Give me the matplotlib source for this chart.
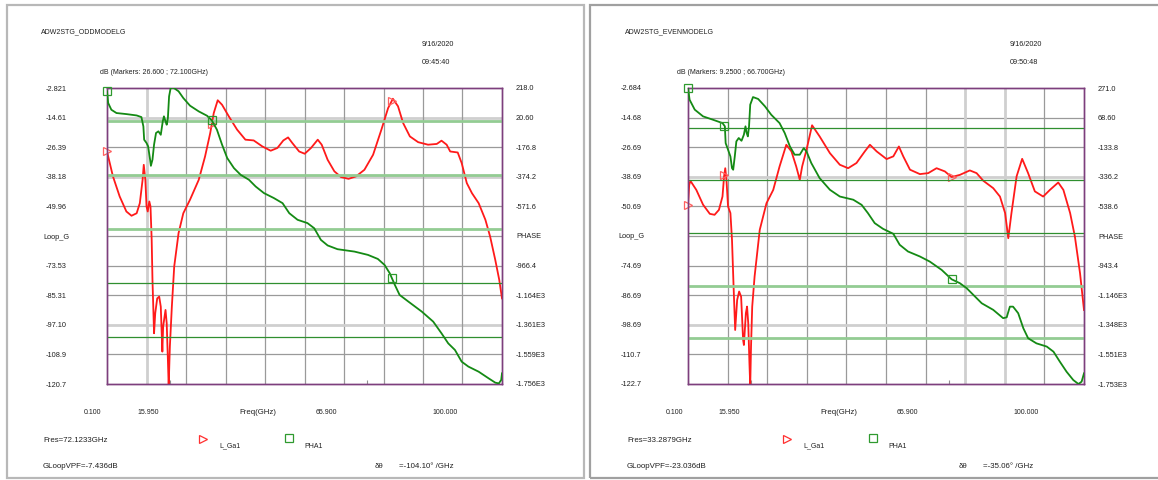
import numpy as np
import matplotlib
matplotlib.use('Agg')
from matplotlib import pyplot as plt
from matplotlib.lines import Line2D
from matplotlib.patches import Rectangle

plt.rcParams['font.family'] = ['Liberation Sans', 'DejaVu Sans']

W, H = 1158, 480

# ---------------- odd mode data ----------------
odd_gain_f = [0.1, 1.6, 3.3, 5.0, 6.3, 7.6, 8.4, 9.1, 9.4, 9.8, 10.1, 10.4, 10.8, 11.1, 11.4, 11.6,
              12.0, 12.3, 12.8, 13.3, 13.7, 14.1, 14.3, 14.9, 15.2, 15.5, 15.7, 16.0, 16.5, 17.1,
              18.2, 19.4, 21.1, 23.3, 24.9, 26.2, 27.1, 28.1, 29.2, 30.9, 33.0, 35.1, 37.2, 39.4,
              41.5, 43.2, 44.7, 45.9, 47.0, 48.7, 50.1, 51.7, 53.4, 54.4, 55.9, 57.6, 59.3, 61.2,
              63.1, 65.2, 67.4, 69.5, 71.2, 72.4, 73.7, 75.0, 76.7, 78.8, 81.3, 83.5, 84.7, 86.0,
              86.9, 88.8, 89.8, 91.1, 92.4, 94.1, 95.8, 97.0, 98.3, 99.3, 100.0]
odd_gain_db = [-28.1, -38.0, -46.0, -52.0, -53.7, -52.7, -48.7, -39.4, -33.4, -39.4, -50.0, -52.0,
               -48.0, -50.0, -63.3, -79.2, -100.5, -92.5, -86.6, -85.9, -89.9, -107.8, -97.8, -91.2,
               -96.5, -111.1, -121.5, -105.8, -89.9, -73.9, -60.6, -52.7, -47.3, -39.4, -30.1, -20.8,
               -12.8, -7.7, -9.5, -14.1, -19.4, -23.4, -23.7, -26.1, -27.8, -26.7, -23.7, -22.5,
               -24.8, -28.1, -29.0, -26.7, -23.4, -25.4, -31.4, -36.0, -38.3, -39.0, -38.0, -35.4,
               -29.4, -19.4, -10.8, -7.1, -10.1, -16.8, -22.1, -24.4, -25.4, -25.1, -23.8, -25.4,
               -28.1, -28.5, -32.7, -40.7, -44.7, -48.7, -55.3, -62.0, -71.3, -79.2, -86.6]
odd_phase_f = [0.1, 0.4, 1.2, 2.5, 5.0, 7.6, 8.8, 9.3, 9.5, 10.1, 10.5, 11.0, 11.2, 11.6, 12.0, 12.5,
               13.1, 13.7, 14.2, 14.5, 14.9, 15.2, 15.5, 15.8, 16.2, 16.9, 18.2, 19.4, 21.1, 23.3,
               25.4, 26.6, 27.9, 29.2, 30.5, 32.2, 33.9, 36.0, 37.7, 39.8, 42.3, 44.5, 46.2, 48.3,
               50.8, 52.5, 54.2, 55.9, 58.4, 62.7, 66.1, 68.6, 70.3, 71.6, 72.9, 74.1, 76.3, 79.7,
               82.6, 84.7, 86.4, 88.1, 89.8, 91.5, 94.1, 96.6, 98.3, 99.2, 99.8, 100.0]
odd_phase_deg = [196, 118, 73, 51, 44, 35, 24, -38, -127, -149, -171, -260, -301, -260, -160, -82,
                 -71, -94, -5, 29, -5, -27, 18, 162, 218, 220, 196, 151, 100, 62, 33, 2, -60, -160,
                 -249, -316, -361, -394, -439, -483, -516, -550, -617, -661, -683, -717, -795, -832,
                 -857, -873, -895, -922, -962, -1017, -1095, -1162, -1206, -1273, -1340, -1418,
                 -1485, -1529, -1607, -1640, -1674, -1718, -1747, -1752, -1729, -1685]
odd_markers = [0.1, 26.6, 72.1]
odd_left_labels = ['-2.821', '-14.61', '-26.39', '-38.18', '-49.96', 'Loop_G', '-73.53', '-85.31',
                   '-97.10', '-108.9', '-120.7']
odd_right_labels = ['218.0', '20.60', '-176.8', '-374.2', '-571.6', 'PHASE', '-966.4', '-1.164E3',
                    '-1.361E3', '-1.559E3', '-1.756E3']

# ---------------- even mode data ----------------
even_gain_f = [0.1, 0.4, 0.7, 2.2, 3.9, 5.6, 6.8, 7.9, 8.8, 9.2, 9.5, 9.8, 10.2, 10.8, 11.2, 11.6,
               12.0, 12.5, 13.0, 13.5, 14.0, 14.2, 14.7, 15.0, 15.3, 15.6, 15.8, 16.0, 16.3, 16.9,
               18.2, 19.9, 21.6, 23.2, 24.9, 26.2, 27.4, 28.3, 28.9, 30.0, 31.4, 33.3, 35.9, 38.4,
               40.5, 42.6, 44.7, 46.0, 47.7, 50.2, 51.9, 53.3, 54.4, 56.1, 58.6, 60.7, 62.8, 64.9,
               66.6, 68.7, 71.2, 72.9, 74.6, 77.1, 78.8, 80.1, 80.9, 81.7, 83.0, 84.4, 85.9, 87.6,
               89.7, 91.4, 93.5, 94.8, 96.5, 97.7, 99.0, 100.0]
even_gain_db = [-50.0, -42.0, -40.3, -44.0, -50.0, -53.7, -54.1, -52.1, -46.7, -38.5, -35.2, -39.9,
                -50.7, -53.4, -64.3, -83.2, -100.8, -88.6, -85.2, -87.3, -104.8, -106.9, -94.0,
                -91.3, -98.1, -114.3, -123.5, -107.5, -91.3, -79.1, -60.2, -49.4, -44.0, -34.5,
                -25.7, -28.4, -34.5, -39.9, -34.5, -27.7, -17.8, -22.3, -29.1, -33.8, -35.2, -33.1,
                -28.4, -25.7, -28.4, -31.5, -30.4, -26.4, -30.4, -35.8, -37.6, -37.2, -35.2, -36.5,
                -38.8, -37.9, -36.1, -37.2, -40.3, -43.3, -46.7, -53.4, -63.6, -53.4, -38.5, -31.4,
                -37.2, -44.6, -46.7, -44.0, -41.0, -44.0, -53.4, -62.9, -77.8, -92.7]
even_phase_f = [0.1, 0.5, 1.8, 3.9, 6.4, 8.8, 9.4, 9.6, 10.2, 10.8, 11.2, 11.5, 11.9, 12.3, 12.9,
                13.6, 14.2, 14.6, 14.9, 15.2, 15.5, 15.8, 16.5, 17.8, 19.5, 21.1, 23.2, 24.5, 25.8,
                27.0, 28.3, 29.3, 30.0, 31.2, 33.3, 35.9, 38.4, 41.8, 43.9, 45.5, 47.2, 49.3, 51.9,
                53.5, 55.6, 58.6, 61.1, 64.1, 66.6, 68.7, 70.4, 72.1, 74.2, 77.1, 79.6, 80.5, 81.3,
                82.1, 83.4, 84.7, 85.9, 88.0, 90.6, 92.3, 93.9, 95.6, 97.3, 98.6, 99.4, 100.0]
even_phase_deg = [271, 191, 123, 77, 54, 31, 9, -106, -151, -197, -277, -288, -197, -94, -71, -90,
                  -48, 9, -37, -60, 9, 157, 209, 196, 146, 88, 31, -37, -128, -185, -185, -140,
                  -163, -242, -345, -425, -471, -493, -528, -585, -653, -692, -726, -801, -847,
                  -881, -916, -973, -1037, -1064, -1098, -1144, -1201, -1246, -1303, -1297, -1224,
                  -1224, -1269, -1372, -1440, -1475, -1497, -1532, -1600, -1669, -1726, -1753,
                  -1737, -1680]
even_markers = [0.1, 9.25, 66.7]
even_left_labels = ['-2.684', '-14.68', '-26.69', '-38.69', '-50.69', 'Loop_G', '-74.69', '-86.69',
                    '-98.69', '-110.7', '-122.7']
even_right_labels = ['271.0', '68.60', '-133.8', '-336.2', '-538.6', 'PHASE', '-943.4', '-1.146E3',
                     '-1.348E3', '-1.551E3', '-1.753E3']

phase_lines = [0, -360, -720, -1080, -1440]
x_tick_vals = [0.1, 15.95, 65.9, 100.0]
x_tick_text = ['0.100', '15.950', 'Freq(GHz)', '65.900', '100.000']

fig = plt.figure(figsize=(W / 100, H / 100), dpi=100)
fig.patch.set_facecolor('white')


def fx(x):
    return x / W


def fy(y):
    return 1 - y / H


def txt(x, y, s, size=5.0, ha='left', color='#202020'):
    fig.text(fx(x), fy(y), s, fontsize=size, ha=ha, va='center', color=color)


def panel(L, gf, gdb, pf, pdeg, markers, llab, rlab, db_rng, ph_rng, texts, green_light,
          light_v, light_h, left_pad):
    ax0 = L['ax']
    # frame of the panel
    fig.add_artist(Rectangle((fx(L['fr0']), fy(478)), fx(L['fr1'] - L['fr0']), 473 / H,
                             transform=fig.transFigure, fill=False, ec=L['frc'], lw=1.6))
    ax = fig.add_axes([fx(ax0), fy(384), fx(L['aw']), 296 / H])
    ax.set_xlim(0.1, 100)
    ax.set_ylim(db_rng)
    ax2 = ax.twinx()
    ax2.set_ylim(ph_rng)

    for i in range(1, 10):
        xv = 0.1 + 99.9 * i / 10
        if i in light_v:
            ax.axvline(xv, color='#cfcfcf', lw=2.0, zorder=1)
        else:
            ax.axvline(xv, color='#9a9a9a', lw=0.9, zorder=1)
        yv = db_rng[1] - (db_rng[1] - db_rng[0]) * i / 10
        if i in light_h:
            ax.axhline(yv, color='#cfcfcf', lw=2.0, zorder=1)
        else:
            ax.axhline(yv, color='#9a9a9a', lw=0.9, zorder=1)

    for ph, lt in zip(phase_lines, green_light):
        if lt:
            ax2.axhline(ph, color='#93cc93', lw=2.0, zorder=1)
        else:
            ax2.axhline(ph, color='#2f8f2f', lw=0.9, zorder=1)

    ax.plot(gf, gdb, color='#ff1a1a', lw=1.3, zorder=3)
    ax2.plot(pf, pdeg, color='#148a14', lw=1.3, zorder=3)

    ax.plot(markers, np.interp(markers, gf, gdb), ls='none', marker='>', ms=6, mfc='none',
            mec='#ff6060', mew=0.9, zorder=4, clip_on=False)
    ax2.plot(markers, np.interp(markers, pf, pdeg), ls='none', marker='s', ms=6, mfc='none',
             mec='#2f9a2f', mew=0.9, zorder=4, clip_on=False)

    ax.set_yticks(np.linspace(db_rng[1], db_rng[0], 11))
    ax.set_yticklabels(llab, ha='center', fontsize=5.3, color='#202020')
    ax.tick_params(axis='y', length=0, pad=left_pad * 0.72)
    ax2.set_yticks(np.linspace(ph_rng[1], ph_rng[0], 11))
    ax2.set_yticklabels(rlab, ha='left', fontsize=5.3, color='#202020')
    ax2.tick_params(axis='y', length=0, pad=14 * 0.72)
    ax.set_xticks(x_tick_vals)
    ax.tick_params(axis='x', direction='in', length=3, color='#909090', labelbottom=False)

    for a in (ax, ax2):
        for s in a.spines.values():
            s.set_color('#7d3f7d')
            s.set_linewidth(1.0)

    # texts around the plot
    for off, s in zip([-14, 41, 151, 219, 338], x_tick_text):
        txt(ax0 + off, 412, s, size=5.6 if s.startswith('Freq') else 5.0, ha='center')
    txt(L['title_x'], 32, texts['title'], size=5.0)
    txt(L['date_x'], 45, '9/16/2020', size=5.2)
    txt(L['date_x'], 63, texts['time'], size=5.2)
    txt(L['db_x'], 72, texts['markers'], size=5.0)
    txt(L['title_x'] + 2, 440, texts['fres'], size=5.7)
    txt(L['title_x'] + 2, 466, texts['gloop'], size=5.7)
    fig.add_artist(Line2D([fx(L['leg_x'])], [fy(439)], marker='>', ms=6, mfc='none',
                          mec='#ff3030', mew=0.9, transform=fig.transFigure))
    txt(L['leg_x'] + 16, 446, 'L_Ga1', size=5.0)
    fig.add_artist(Line2D([fx(L['leg_x'] + 86)], [fy(438)], marker='s', ms=6, mfc='none',
                          mec='#2f9a2f', mew=0.9, transform=fig.transFigure))
    txt(L['leg_x'] + 101, 446, 'PHA1', size=5.0)
    txt(L['leg_x'] + 172, 466, '\u03b4\u03b8', size=5.7)
    txt(L['leg_x'] + 196, 466, texts['dtheta'], size=5.7)


odd_layout = dict(ax=107, aw=395, fr0=7, fr1=584, frc='#b8b8b8', title_x=41, date_x=422,
                  db_x=100, leg_x=203)
even_layout = dict(ax=688, aw=396, fr0=590, fr1=1175, frc='#a0a0a0', title_x=625, date_x=1010,
                   db_x=677, leg_x=787)

panel(odd_layout, odd_gain_f, odd_gain_db, odd_phase_f, odd_phase_deg, odd_markers,
      odd_left_labels, odd_right_labels, (-120.7, -2.821), (-1756.0, 218.0),
      dict(title='ADW2STG_ODDMODELG', time='09:45:40',
           markers='dB (Markers: 26.600 ; 72.100GHz)', fres='Fres=72.1233GHz',
           gloop='GLoopVPF=-7.436dB', dtheta='=-104.10\u00b0 /GHz'),
      [True, True, True, False, False], [1], [1, 3, 8], 51)

panel(even_layout, even_gain_f, even_gain_db, even_phase_f, even_phase_deg, even_markers,
      even_left_labels, even_right_labels, (-122.7, -2.684), (-1753.0, 271.0),
      dict(title='ADW2STG_EVENMODELG', time='09:50:48',
           markers='dB (Markers: 9.2500 ; 66.700GHz)', fres='Fres=33.2879GHz',
           gloop='GLoopVPF=-23.036dB', dtheta='=-35.06\u00b0 /GHz'),
      [False, False, False, True, True], [7, 8], [3, 8], 57)

fig.savefig('out.png', dpi=100, facecolor='white')
